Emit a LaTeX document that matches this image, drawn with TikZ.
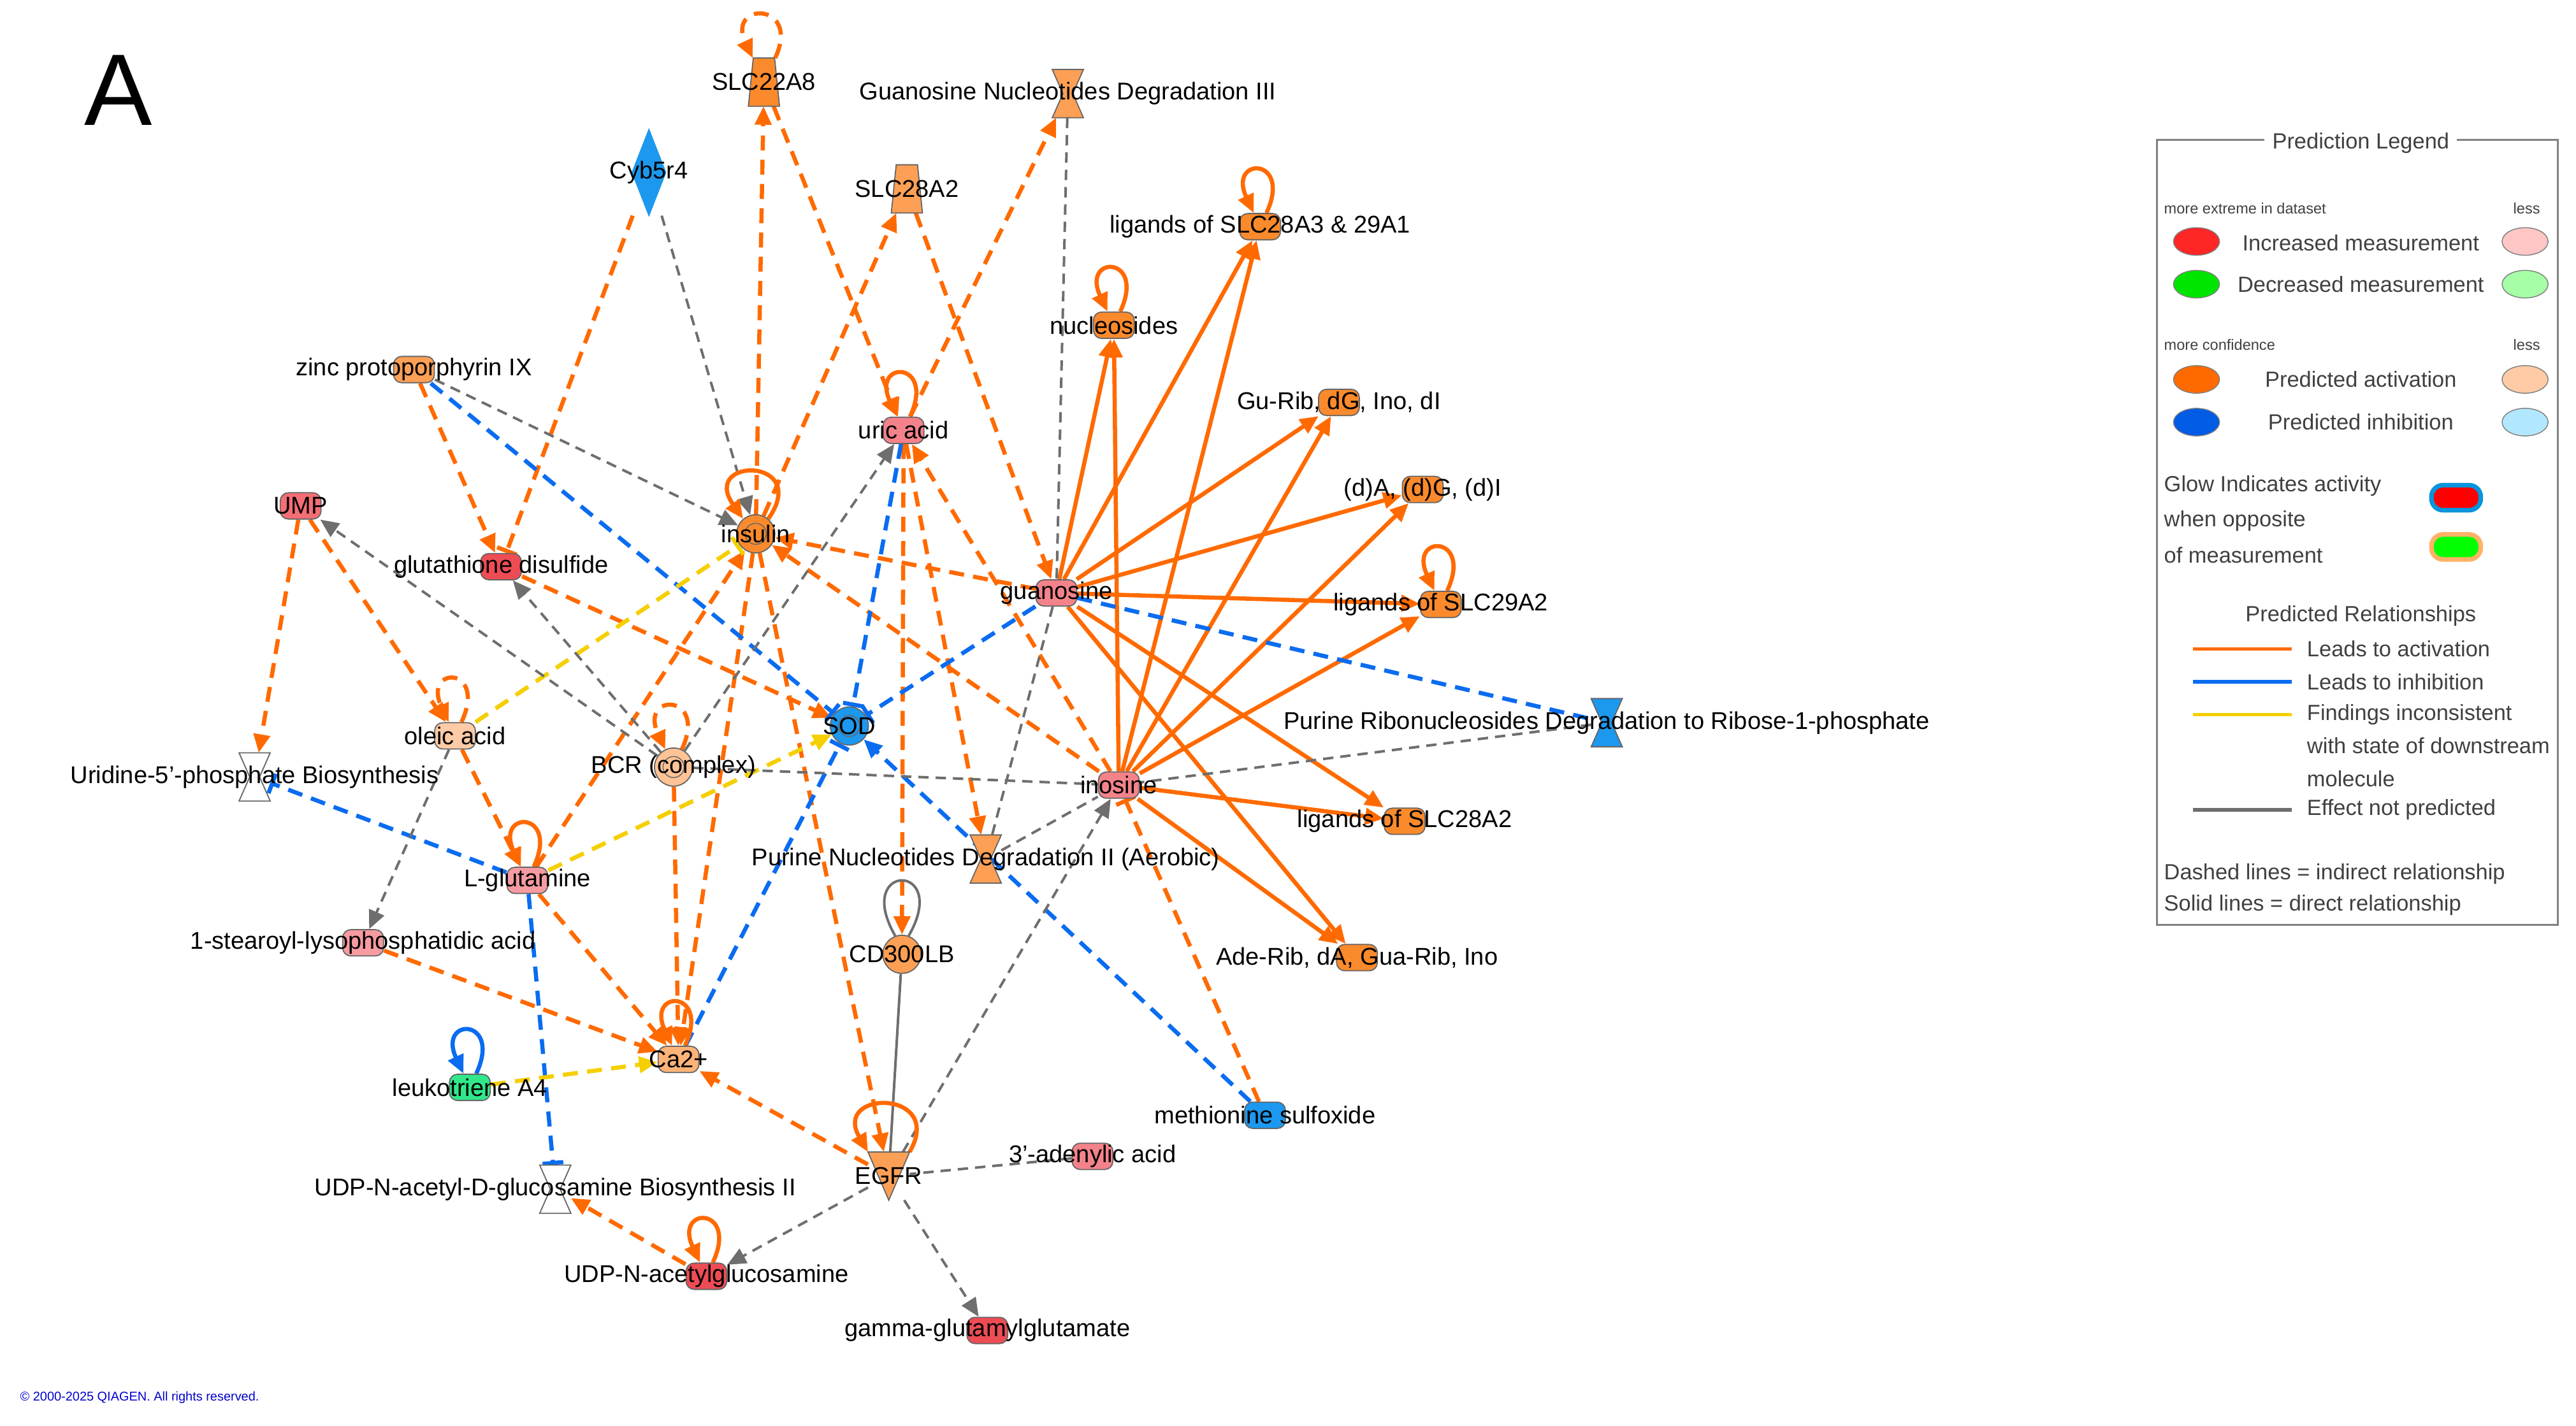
\documentclass[tikz,border=0pt]{standalone}
\usepackage{fontspec}
\setmainfont{Liberation Sans}
\usetikzlibrary{arrows.meta,calc,shapes.geometric}
\pgfdeclarelayer{bg}\pgfsetlayers{bg,main}
\definecolor{lor}{HTML}{FF6A00}
\definecolor{lbl}{HTML}{0A6CF0}
\definecolor{lye}{HTML}{F5CF00}
\definecolor{lgr}{HTML}{6E6E6E}
\definecolor{pnk}{HTML}{F4828A}
\definecolor{rd}{HTML}{EE4C55}
\definecolor{orf}{HTML}{FB8A2C}
\definecolor{orm}{HTML}{FDA055}
\definecolor{orl}{HTML}{FFCBA6}
\definecolor{blf}{HTML}{1C98EE}
\definecolor{grf}{HTML}{30E88A}
\tikzset{
 base/.style={draw=gray!80!black,line width=0.5pt,inner sep=0pt},
 chem/.style={base,rectangle,rounded corners=3.5pt,minimum width=0.62cm,minimum height=0.4cm},
 circ/.style={base,circle,minimum size=0.58cm},
 box/.style={rectangle,inner sep=0pt,minimum width=#1},
 txt/.style={font=\fontsize{10.5}{12}\selectfont,inner sep=0pt},
 od/.style={draw=lor,line width=1.8pt,dash pattern=on 6.5pt off 4pt},
 os/.style={draw=lor,line width=1.8pt},
 bd/.style={draw=lbl,line width=1.8pt,dash pattern=on 6.5pt off 4pt},
 yd/.style={draw=lye,line width=1.8pt,dash pattern=on 6.5pt off 4pt},
 gd/.style={draw=lgr,line width=1.1pt,dash pattern=on 4.5pt off 3pt},
 gs/.style={draw=lgr,line width=1.1pt},
 ar/.style={-{Triangle[width=7pt,length=8pt]}},
 ib/.style={-{Bar[width=9pt]}},
 lp/.style={out=65,in=115,min distance=0.95cm,looseness=5},
}
\newcommand\chem[5]{\node[chem,fill=#4] (#1) at (#2,#3) {};\node[txt] at (#1) {#5};}
\newcommand\circn[5]{\node[circ,fill=#4] (#1) at (#2,#3) {};\node[txt] at (#1) {#5};}
\newcommand\dcirc[5]{\node[circ,fill=#4] (#1) at (#2,#3) {};\draw[gray!80!black,line width=0.4pt] (#1) circle (0.16cm);\node[txt] at (#1) {#5};}
\newcommand\hg[5]{\node[box,minimum width=0.46cm,minimum height=0.72cm] (#1) at (#2,#3) {};
 \filldraw[fill=#4,draw=gray!80!black,line width=0.5pt] (#1.north west)--(#1.north east)--($(#1.center)+(3,0)$)--(#1.south east)--(#1.south west)--($(#1.center)+(-3,0)$)--cycle;\node[txt] at (#1) {#5};}
\newcommand\trap[5]{\node[box,minimum width=0.46cm,minimum height=0.72cm] (#1) at (#2,#3) {};
 \filldraw[fill=#4,draw=gray!80!black,line width=0.5pt] (#1.south west)--(#1.south east)--($(#1.north east)+(-3,0)$)--($(#1.north west)+(3,0)$)--cycle;\node[txt] at (#1) {#5};}
\begin{document}
\begin{tikzpicture}[x=0.025cm,y=-0.025cm]
\useasboundingbox (0,0) rectangle (1568,868);
\node[font=\fontsize{44}{46}\selectfont] at (72,55) {A};
\node[anchor=west,font=\fontsize{5.5}{6}\selectfont,text=blue!80!black,inner sep=0pt] at (12,851) {© 2000-2025 QIAGEN. All rights reserved.};
% nodes
\trap{slc22}{465}{50}{orf}{SLC22A8}
\hg{gnd}{650}{57}{orm}{Guanosine Nucleotides Degradation III}
\node[box,minimum width=0.5cm,minimum height=1.3cm] (cyb) at (395,105) {};
\filldraw[fill=blf,draw=blf] (cyb.north)--(cyb.east)--(cyb.south)--(cyb.west)--cycle;
\node[txt] at (cyb) {Cyb5r4};
\trap{slc28}{552}{115}{orm}{SLC28A2}
\chem{lig3}{767}{138}{orf}{ligands of SLC28A3 \& 29A1}
\chem{nuc}{678}{198}{orf}{nucleosides}
\chem{gurib}{815}{245}{orf}{Gu-Rib, dG, Ino, dI}
\chem{zinc}{252}{225}{orm}{zinc protoporphyrin IX}
\chem{uric}{550}{262}{pnk}{uric acid}
\chem{dadg}{866}{298}{orf}{(d)A, (d)G, (d)I}
\chem{ump}{183}{308}{pnk!85!red}{UMP}
\dcirc{ins}{460}{325}{orf}{insulin}
\chem{glu}{305}{345}{rd}{glutathione disulfide}
\chem{guo}{643}{361}{pnk}{guanosine}
\chem{lig29}{877}{368}{orf}{ligands of SLC29A2}
\chem{oleic}{277}{448}{orl}{oleic acid}
\dcirc{sod}{517}{442}{blf}{SOD}
\hg{prd}{978}{440}{blf}{Purine Ribonucleosides Degradation to Ribose-1-phosphate}
\dcirc{bcr}{410}{467}{orl!90!orange}{BCR (complex)}
\hg{uri}{155}{473}{white}{Uridine-5'-phosphate Biosynthesis}
\chem{ino}{681}{478}{pnk}{inosine}
\chem{lig28}{855}{500}{orf}{ligands of SLC28A2}
\hg{pnd}{600}{523}{orm}{Purine Nucleotides Degradation II (Aerobic)}
\chem{lgln}{321}{536}{pnk!80!white}{L-glutamine}
\chem{stear}{221}{574}{pnk!80!white}{1-stearoyl-lysophosphatidic acid}
\circn{cd}{549}{581}{orm}{CD300LB}
\chem{ade}{826}{583}{orf}{Ade-Rib, dA, Gua-Rib, Ino}
\chem{ca}{413}{645}{orm!80!white}{Ca2+}
\chem{ltb}{286}{662}{grf}{leukotriene A4}
\chem{met}{770}{679}{blf}{methionine sulfoxide}
\chem{adenyl}{665}{704}{pnk}{3'-adenylic acid}
\node[box,minimum width=0.62cm,minimum height=0.72cm] (egfr) at (541,716) {};
\filldraw[fill=orm,draw=gray!80!black,line width=0.5pt] (egfr.north west)--(egfr.north east)--(egfr.south)--cycle;
\node[txt] at (egfr) {EGFR};
\hg{udpb}{338}{724}{white}{UDP-N-acetyl-D-glucosamine Biosynthesis II}
\chem{udp}{430}{777}{rd}{UDP-N-acetylglucosamine}
\chem{gam}{601}{810}{rd}{gamma-glutamylglutamate}
% edges
\begin{pgfonlayer}{bg}
\foreach \a/\b in {ins/slc22,slc22/uric,ins/slc28,slc28/guo,uric/gnd,zinc/glu,ump/uri,ump/oleic,oleic/lgln,guo/ins,ino/ins,ino/uric,glu/sod,lgln/ins,ins/ca,bcr/ca,ins/egfr,uric/pnd,uric/cd,lgln/ca,stear/ca,egfr/ca,udp/udpb}
  \draw[od,ar] (\a) -- (\b);
\draw[od,ib] (cyb) -- (glu);
\draw[od,ib] (met) -- (ino);
\foreach \a in {guo,ino}
 \foreach \b in {lig3,nuc,gurib,dadg,lig29,lig28,ade}
  \draw[os,ar] (\a) -- (\b);
\foreach \a/\b in {zinc/sod,uric/sod,guo/sod,ca/sod,lgln/udpb,lgln/uri}
  \draw[bd,ib] (\a) -- (\b);
\draw[bd] (guo) -- (prd);
\draw[bd,ar] (met) -- (sod);
\draw[yd,ib] (oleic) -- (ins);
\draw[yd,ar] (lgln) -- (sod);
\draw[yd,ar] (ltb) -- (ca);
\foreach \a/\b in {cyb/ins,zinc/ins,bcr/ump,bcr/glu,bcr/uric,oleic/stear,egfr/ino,egfr/udp,egfr/gam}
  \draw[gd,ar] (\a) -- (\b);
\foreach \a/\b in {bcr/ino,prd/ino,gnd/guo,guo/pnd,pnd/ino,adenyl/egfr}
  \draw[gd] (\a) -- (\b);
\draw[gs] (cd) -- (egfr);
\draw[gs] (cd.70) .. controls +(60:1.3cm) and +(120:1.3cm) .. (cd.110);
\foreach \n in {lig3,nuc,uric,lig29,lgln,ca,udp}
  \draw[os,ar] (\n) to[lp] (\n);
\draw[os,ar] (ins.50) .. controls +(55:1.15cm) and +(125:1.15cm) .. (ins.130);
\draw[os,ar] (egfr.north east) .. controls +(60:1.1cm) and +(120:1.1cm) .. (egfr.north west);
\foreach \n in {slc22,oleic,bcr}
  \draw[od,ar] (\n) to[lp] (\n);
\draw[draw=lbl,line width=1.8pt,ar] (ltb) to[lp] (ltb);
\end{pgfonlayer}
% legend
\draw[gray,line width=0.8pt] (1313,85) rectangle (1557,563);
\node[fill=white,font=\fontsize{9.5}{11}\selectfont,text=black!75] (lt) at (1437,87) {Prediction Legend};
\tikzset{ls/.style={font=\fontsize{6.5}{7}\selectfont,text=black!75,inner sep=0pt},
 lm/.style={font=\fontsize{9.5}{11}\selectfont,text=black!75,inner sep=0pt},
 ell/.style={ellipse,draw=gray,minimum width=0.7cm,minimum height=0.42cm,inner sep=0pt}}
\node[ls,anchor=west] at (1317,127) {more extreme in dataset};
\node[ls] at (1538,127) {less};
\node[ell,fill=red!85!white] (e1) at (1337,147) {};
\node[lm] at (1437,148) {Increased measurement};
\node[ell,fill=pink!90!white] (e2) at (1537,147) {};
\node[ell,fill=green!90!black] (e3) at (1337,173) {};
\node[lm] at (1437,173) {Decreased measurement};
\node[ell,fill=green!35!white] (e4) at (1537,173) {};
\node[ls,anchor=west] at (1317,210) {more confidence};
\node[ls] at (1538,210) {less};
\node[ell,fill=lor] (e5) at (1337,231) {};
\node[lm] at (1437,231) {Predicted activation};
\node[ell,fill=orl] (e6) at (1537,231) {};
\node[ell,fill=blue!60!cyan!90!black] (e7) at (1337,257) {};
\node[lm] at (1437,257) {Predicted inhibition};
\node[ell,fill=blue!30!cyan!30!white] (e8) at (1537,257) {};
\node[lm,anchor=west] at (1317,296) {Glow Indicates activity};
\node[lm,anchor=west] at (1317,317) {when opposite};
\node[lm,anchor=west] at (1317,338) {of measurement};
\node[rectangle,rounded corners=5pt,fill=red,draw=cyan!80!blue,line width=2pt,minimum width=0.75cm,minimum height=0.38cm] (g1) at (1495,303) {};
\node[rectangle,rounded corners=5pt,fill=green,draw=orange!60,line width=2pt,minimum width=0.75cm,minimum height=0.38cm] (g2) at (1495,333) {};
\node[lm] at (1437,375) {Predicted Relationships};
\coordinate (l1a) at (1335,395); \coordinate (l1b) at (1395,395);
\coordinate (l2a) at (1335,415); \coordinate (l2b) at (1395,415);
\coordinate (l3a) at (1335,435); \coordinate (l3b) at (1395,435);
\coordinate (l4a) at (1335,493); \coordinate (l4b) at (1395,493);
\draw[lor,line width=1.5pt] (l1a) -- (l1b);
\draw[lbl,line width=1.5pt] (l2a) -- (l2b);
\draw[lye,line width=1.5pt] (l3a) -- (l3b);
\draw[lgr,line width=1.5pt] (l4a) -- (l4b);
\node[lm,anchor=west] at (1404,395) {Leads to activation};
\node[lm,anchor=west] at (1404,415) {Leads to inhibition};
\node[lm,anchor=west] at (1404,435) {Findings inconsistent};
\node[lm,anchor=west] at (1404,454) {with state of downstream};
\node[lm,anchor=west] at (1404,474) {molecule};
\node[lm,anchor=west] at (1404,493) {Effect not predicted};
\node[lm,anchor=west] at (1317,532) {Dashed lines = indirect relationship};
\node[lm,anchor=west] at (1317,551) {Solid lines = direct relationship};
\end{tikzpicture}
\end{document}
